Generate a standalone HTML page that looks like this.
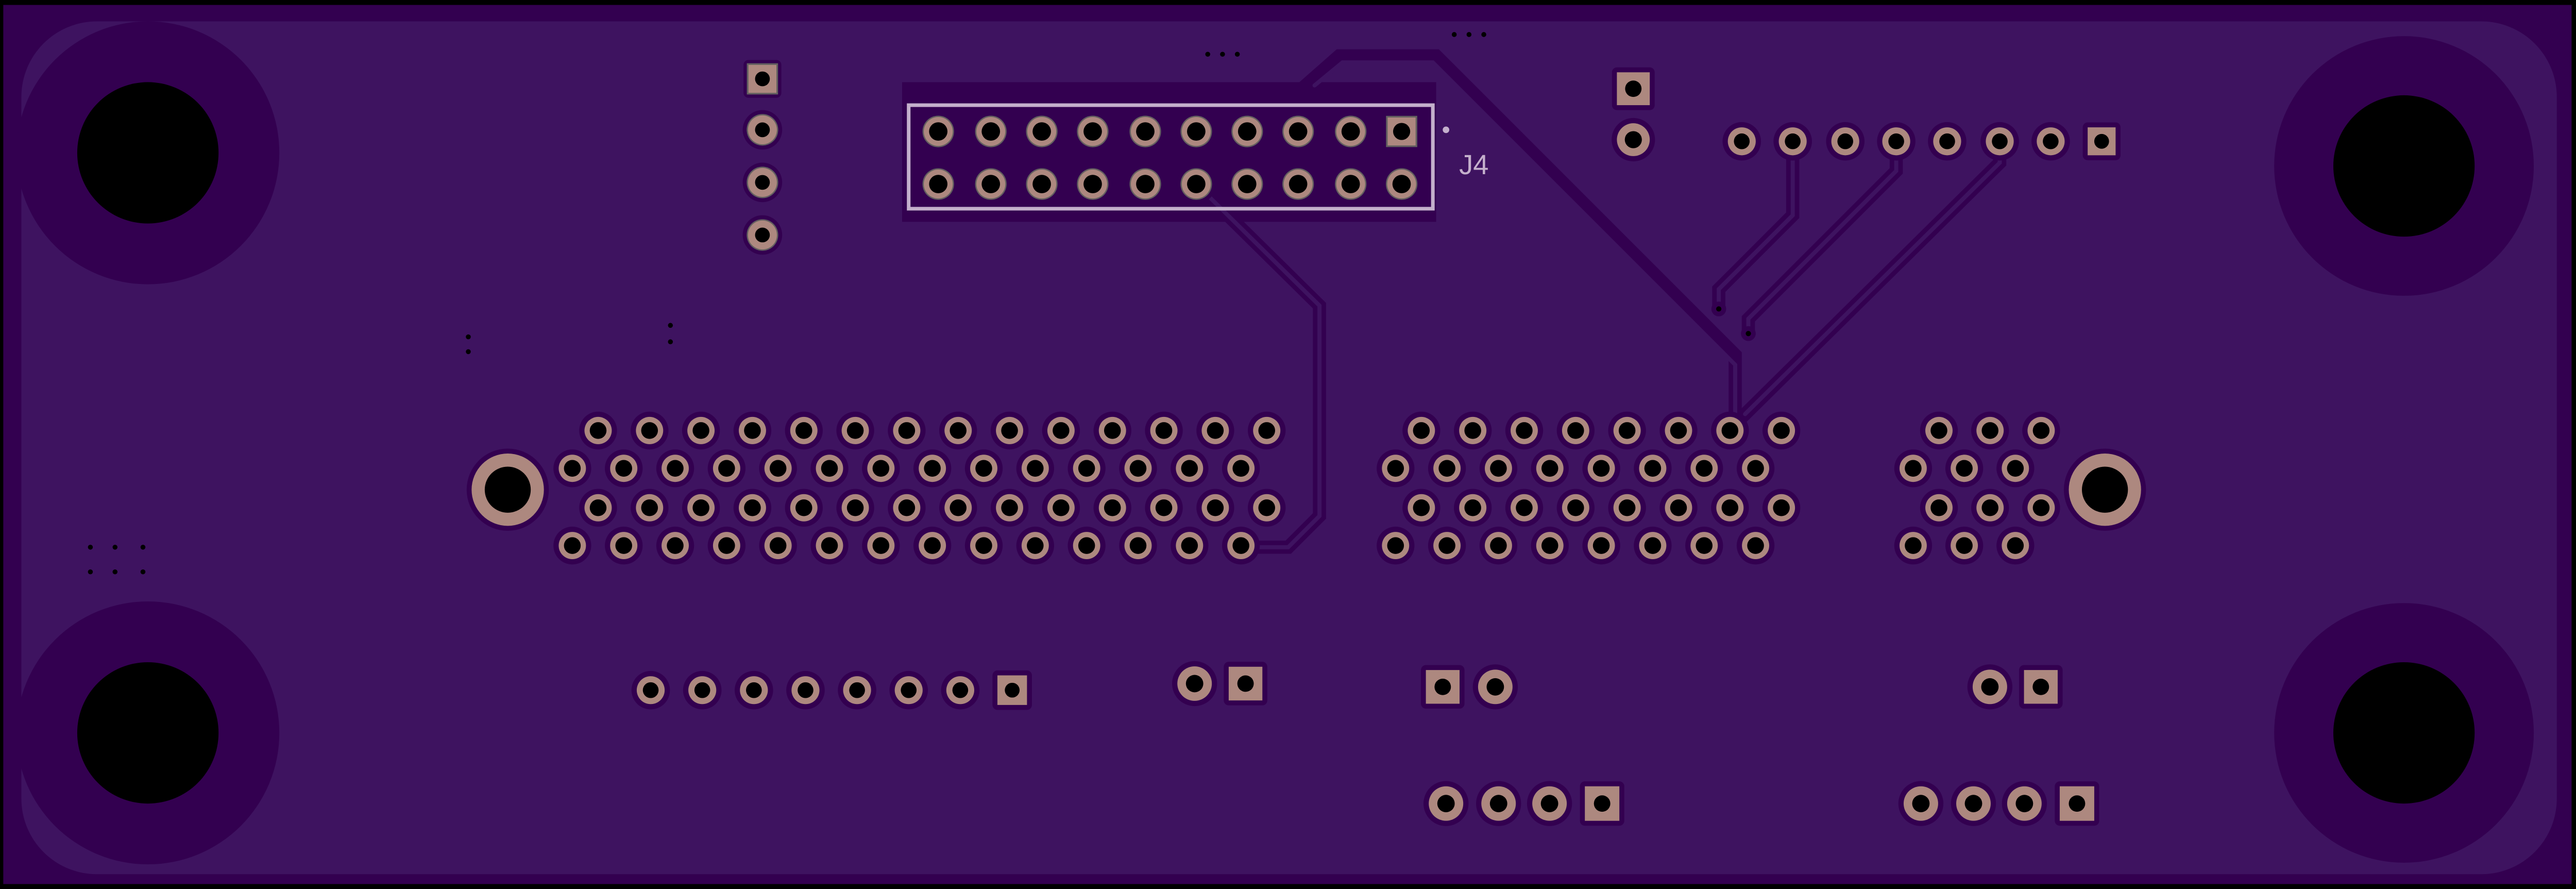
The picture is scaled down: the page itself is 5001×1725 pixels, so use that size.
<!DOCTYPE html>
<html><head><meta charset="utf-8"><style>
html,body{margin:0;padding:0;background:#000;}
svg{display:block;}
</style></head><body>
<svg id="s" xmlns="http://www.w3.org/2000/svg" width="5001" height="1725" viewBox="0 0 1568 541" preserveAspectRatio="none">
<rect x="0" y="0" width="1568" height="541" fill="#000"/>
<rect x="2" y="3" width="1563" height="535" fill="#330050"/>
<rect x="13" y="13" width="1543" height="519" rx="46" fill="#3e1360"/>
<g fill="#330050">
<circle cx="90" cy="93" r="80"/><circle cx="90" cy="446" r="80"/>
<circle cx="1463" cy="101" r="79"/><circle cx="1463" cy="446" r="79"/>
<rect x="549" y="50" width="325" height="85"/>
</g>
<g fill="#000">
<circle cx="90" cy="93" r="43"/><circle cx="90" cy="446" r="43"/>
<circle cx="1463" cy="101" r="43"/><circle cx="1463" cy="446" r="43"/>
</g>
<g fill="none" stroke-linejoin="miter" stroke-linecap="round">
<g stroke="#330050" stroke-width="8">
<path d="M728,112 L803,186 L803,314 L784,333 L756,333"/>
<path d="M790,56 L815,34 L874,34 L1056,216 L1056,258"/>
<path d="M1091,86 L1091,131 L1046,176 L1046,188"/>
<path d="M1154,86 L1154,104 L1064,194 L1064,203"/>
<path d="M1217,86 L1217,99 L1059,255"/>
</g>
<g stroke="#3e1360" stroke-width="2.5">
<path d="M728,112 L803,186 L803,314 L784,333 L756,333"/>
<path d="M800,52 L817,38 L872,38 L1056,222 L1056,252"/>
<path d="M1091,92 L1091,131 L1046,176 L1046,186"/>
<path d="M1154,92 L1154,104 L1064,194 L1064,201"/>
<path d="M1217,92 L1217,99 L1062,252"/>
</g>
</g>
<g id="pads"></g>
<circle cx="1046" cy="188" r="4.5" fill="#330050"/><circle cx="1046" cy="188" r="1.6" fill="#000"/>
<circle cx="1064" cy="203" r="4.5" fill="#330050"/><circle cx="1064" cy="203" r="1.6" fill="#000"/>
<rect x="553" y="64" width="319" height="63" fill="none" stroke="#c4b0cc" stroke-width="2.2"/>
<circle cx="880" cy="79" r="2" fill="#c4b0cc"/>
<text x="888" y="106" font-family="Liberation Sans, sans-serif" font-size="17" fill="#c4b0cc">J4</text>
<g fill="#000">
<circle cx="735" cy="33" r="1.5"/><circle cx="744" cy="33" r="1.5"/><circle cx="753" cy="33" r="1.5"/>
<circle cx="885" cy="21" r="1.5"/><circle cx="894" cy="21" r="1.5"/><circle cx="903" cy="21" r="1.5"/>
<circle cx="285" cy="205" r="1.5"/><circle cx="285" cy="214" r="1.5"/>
<circle cx="408" cy="198" r="1.5"/><circle cx="408" cy="208" r="1.5"/>
<circle cx="55" cy="333" r="1.5"/><circle cx="70" cy="333" r="1.5"/><circle cx="87" cy="333" r="1.5"/>
<circle cx="55" cy="348" r="1.5"/><circle cx="70" cy="348" r="1.5"/><circle cx="87" cy="348" r="1.5"/>
</g>
</svg>
<script>
(function(){
var g=document.getElementById('pads'),NS='http://www.w3.org/2000/svg',h='';
function rp(x,y,r,hr,out){h+='<circle cx="'+x+'" cy="'+y+'" r="'+(r+3.2)+'" fill="#330050"/>';
 if(out)h+='<circle cx="'+x+'" cy="'+y+'" r="'+(r+0.8)+'" fill="#636060"/>';
 h+='<circle cx="'+x+'" cy="'+y+'" r="'+r+'" fill="#ad887f"/><circle cx="'+x+'" cy="'+y+'" r="'+hr+'" fill="#000"/>';}
function sp(x,y,s,hr,out){h+='<rect x="'+(x-s/2-3)+'" y="'+(y-s/2-3)+'" width="'+(s+6)+'" height="'+(s+6)+'" rx="3" fill="#330050"/>';
 if(out)h+='<rect x="'+(x-s/2-1)+'" y="'+(y-s/2-1)+'" width="'+(s+2)+'" height="'+(s+2)+'" fill="#636060"/>';
 h+='<rect x="'+(x-s/2)+'" y="'+(y-s/2)+'" width="'+s+'" height="'+s+'" fill="#ad887f"/><circle cx="'+x+'" cy="'+y+'" r="'+hr+'" fill="#000"/>';}
var i,x;
// J4
var jx=[571,603,634,665,697,728,759,790,822,853];
for(i=0;i<10;i++){ if(i<9)rp(jx[i],80,8.8,5.6,1); else sp(jx[i],80,17,5.2,1); rp(jx[i],112,8.8,5.6,1);}
// left column
sp(464,48,17,4.5,1); rp(464,79,8.8,4.5,1); rp(464,111,8.8,4.5,1); rp(464,143,8.8,4.5,1);
// top right
sp(994,54,20,5,0); rp(994,85,10,5.2,0);
var tr=[1060,1091,1123,1154,1185,1217,1248];
for(i=0;i<7;i++)rp(tr[i],86,8.5,4.8,0); sp(1279,86,17,4.5,0);
// big connector left
for(i=0;i<14;i++){x=364+i*31.3; rp(x,262,8.3,5.1,0); rp(x,309,8.3,5.1,0); rp(x-15.7,285,8.3,5.1,0); rp(x-15.7,332,8.3,5.1,0);}
for(i=0;i<8;i++){x=865+i*31.3; rp(x,262,8.3,5.1,0); rp(x,309,8.3,5.1,0); rp(x-15.7,285,8.3,5.1,0); rp(x-15.7,332,8.3,5.1,0);}
for(i=0;i<3;i++){x=1180+i*31.1; rp(x,262,8.3,5.1,0); rp(x,309,8.3,5.1,0); rp(x-15.7,285,8.3,5.1,0); rp(x-15.7,332,8.3,5.1,0);}
// mid holes
[[309,298],[1281,298]].forEach(function(p){h+='<circle cx="'+p[0]+'" cy="'+p[1]+'" r="25" fill="#330050"/><circle cx="'+p[0]+'" cy="'+p[1]+'" r="22" fill="#ad887f"/><circle cx="'+p[0]+'" cy="'+p[1]+'" r="14" fill="#000"/>';});
// bottom
for(i=0;i<7;i++)rp(396+i*31.4,420,8.5,4.8,0); sp(616,420,18,4.5,0);
rp(727,416,10.5,5.3,0); sp(758,416,20.5,5,0);
sp(878,418,20.5,5,0); rp(910,418,10.5,5.3,0);
rp(1211,418,10.5,5.3,0); sp(1242,418,20.5,5,0);
rp(880,489,10.5,5.3,0); rp(912,489,10.5,5.3,0); rp(943,489,10.5,5.3,0); sp(975,489,21,5,0);
rp(1169,489,10.5,5.3,0); rp(1201,489,10.5,5.3,0); rp(1232,489,10.5,5.3,0); sp(1264,489,21,5,0);
g.innerHTML=h;
})();
</script>
</body></html>
